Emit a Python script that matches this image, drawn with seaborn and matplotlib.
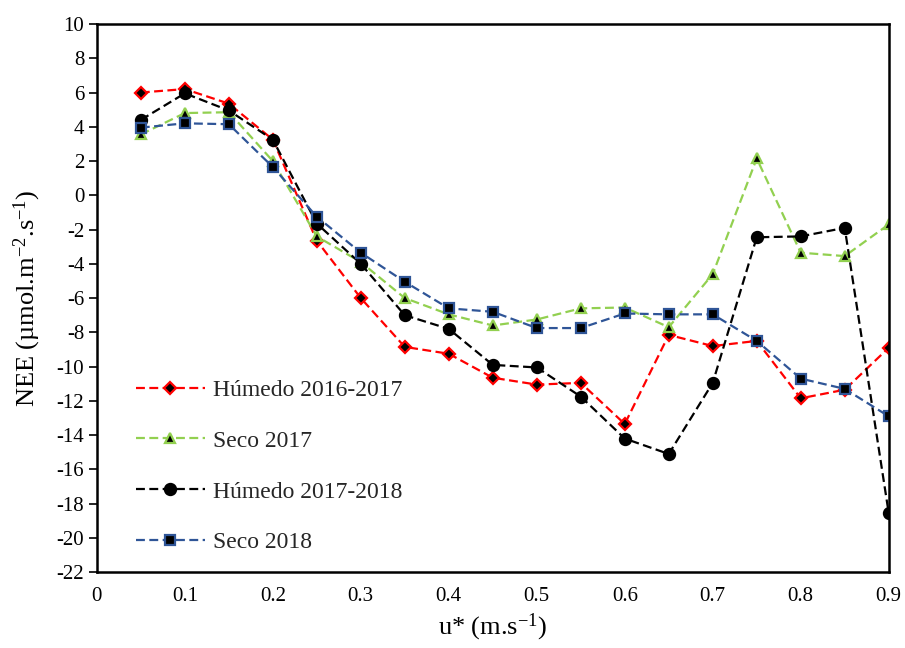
import numpy as np
import pandas as pd
import matplotlib
matplotlib.use("Agg")
import matplotlib.pyplot as plt
import seaborn as sns

# u* classes (m/s)
ustar = [0.05, 0.10, 0.15, 0.20, 0.25, 0.30, 0.35, 0.40, 0.45,
         0.50, 0.55, 0.60, 0.65, 0.70, 0.75, 0.80, 0.85, 0.90]

# Mean NEE per u* class (umol m-2 s-1)
humedo_2016_2017 = [6.0, 6.2, 5.35, 3.25, -2.65, -6.0, -8.85, -9.25, -10.65,
                    -11.05, -10.95, -13.35, -8.15, -8.8, -8.5, -11.85, -11.35, -8.9]
seco_2017 = [3.55, 4.8, 4.85, 2.0, -2.4, -3.9, -6.0, -6.95, -7.6,
             -7.25, -6.6, -6.55, -7.7, -4.6, 2.15, -3.35, -3.55, -1.7]
humedo_2017_2018 = [4.4, 5.95, 4.95, 3.25, -1.65, -4.0, -7.0, -7.8, -9.9,
                    -10.05, -11.75, -14.2, -15.1, -10.95, -2.45, -2.4, -1.9, -18.55]
seco_2018 = [3.95, 4.2, 4.15, 1.65, -1.25, -3.35, -5.05, -6.6, -6.8,
             -7.75, -7.75, -6.9, -6.95, -6.95, -8.5, -10.7, -11.3, -12.9]

series_names = ["Húmedo 2016-2017", "Seco 2017", "Húmedo 2017-2018", "Seco 2018"]
series_values = [humedo_2016_2017, seco_2017, humedo_2017_2018, seco_2018]
series_colors = ["#FF0000", "#92D050", "#000000", "#2F5597"]
series_markers = ["D", "^", "o", "s"]
series_msize = [6, 7.5, 8, 6.5]

yticks = list(range(-22, 11, 2))
xticks = [0, 0.1, 0.2, 0.3, 0.4, 0.5, 0.6, 0.7, 0.8, 0.9]
xticklabels = ["0", "0.1", "0.2", "0.3", "0.4", "0.5", "0.6", "0.7", "0.8", "0.9"]

df = pd.concat(
    [pd.DataFrame({"u": ustar, "NEE": vals, "serie": name})
     for name, vals in zip(series_names, series_values)],
    ignore_index=True,
)

sns.set_theme(style="white")
plt.rcParams["font.family"] = ["Liberation Serif", "DejaVu Serif"]
plt.rcParams["mathtext.fontset"] = "custom"
plt.rcParams["mathtext.rm"] = "Liberation Serif"
plt.rcParams["mathtext.it"] = "Liberation Serif:italic"
plt.rcParams["axes.unicode_minus"] = False

fig = plt.figure(figsize=(9.05, 6.48), dpi=100)
ax = fig.add_axes([0.107, 0.117, 0.875, 0.846])

for name, color, mk, ms in zip(series_names, series_colors, series_markers, series_msize):
    sub = df[df["serie"] == name]
    sns.lineplot(data=sub, x="u", y="NEE", ax=ax, color=color, label=name,
                 marker=mk, markersize=ms, markerfacecolor="black",
                 markeredgecolor=color, markeredgewidth=1.6,
                 linewidth=1.6, linestyle=(0, (4, 2)), sort=False)

ax.set_xlim(0, 0.9)
ax.set_ylim(-22, 10)
ax.set_yticks(yticks)
ax.set_xticks(xticks)
ax.set_xticklabels(xticklabels)
ax.tick_params(axis="y", direction="out", length=6, width=1.2, color="black",
               labelsize=15, labelcolor="black", left=True, pad=3)
ax.tick_params(axis="x", length=0, labelsize=15, labelcolor="black", pad=11)

for sp in ax.spines.values():
    sp.set_color("black")
    sp.set_linewidth(1.8)

ax.set_xlabel("u* (m.s$^{-1}$)", fontsize=19, color="black", labelpad=4)
ax.set_ylabel("NEE (µmol.m$^{-2}$.s$^{-1}$)", fontsize=19, color="black", labelpad=10)

ax.legend(loc="center left", bbox_to_anchor=(0.049, 0.193), frameon=False,
          fontsize=17, handlelength=2.92, handletextpad=0.34, labelspacing=1.24,
          borderaxespad=0, borderpad=0)

fig.savefig("out.png", dpi=100)
